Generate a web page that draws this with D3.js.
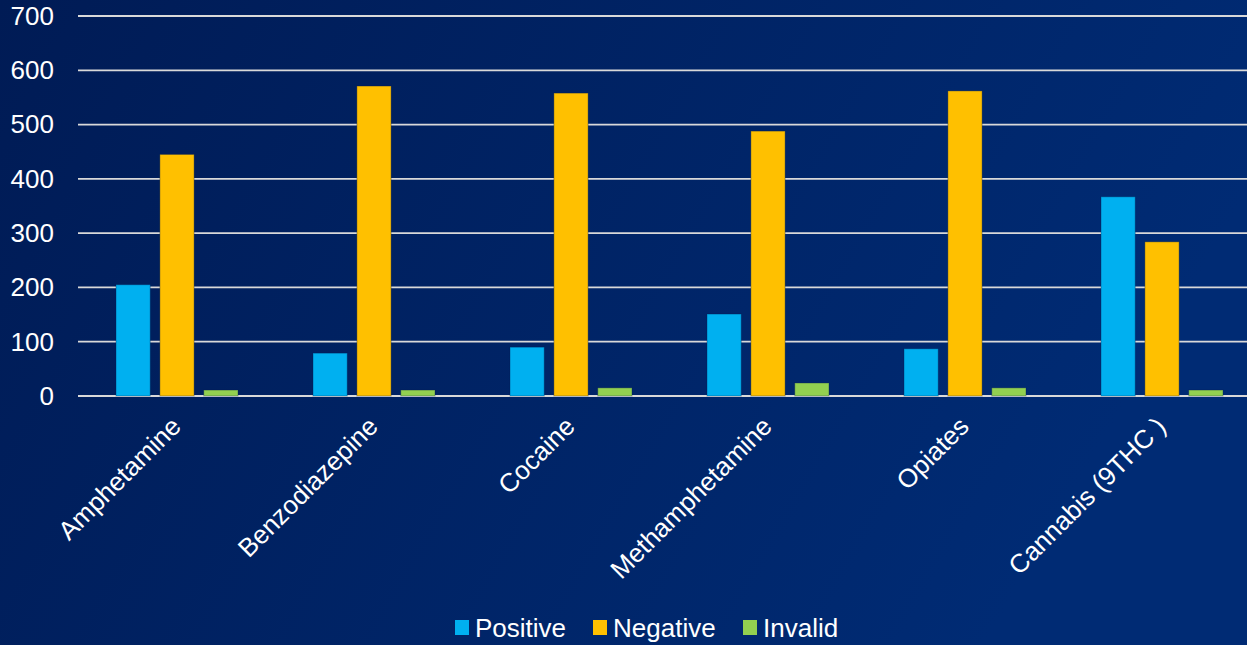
<!DOCTYPE html>
<html>
<head>
<meta charset="utf-8">
<script src="https://cdn.jsdelivr.net/npm/d3@7"></script>
<style>
  html, body { margin: 0; padding: 0; background: #00215f; }
  #chart { width: 1247px; height: 645px; }
  text { font-family: "Liberation Sans", Arial, sans-serif; fill: #ffffff; }
</style>
</head>
<body>
<div id="chart"></div>
<script>
// --------------------------------------
//  Data
// --------------------------------------

const drugs = ["Amphetamine", "Benzodiazepine", "Cocaine", "Methamphetamine", "Opiates", "Cannabis (9THC )"];
const positive = [205, 79, 90, 151, 87, 367];
const negative = [445, 571, 558, 488, 562, 284];
const invalid = [11, 11, 15, 24, 15, 11];
const seriesNames = ["Positive", "Negative", "Invalid"];
const seriesColors = ["#00b0f0", "#ffc000", "#92d050"];
const yTicks = [0, 100, 200, 300, 400, 500, 600, 700];

// --------------------------------------
//  Margin and canvas
// --------------------------------------

const width = 1247;
const height = 645;
const margin = {top: 16, right: -13, bottom: 249, left: 78};
const innerwidth = width - margin.left - margin.right;
const innerheight = height - margin.top - margin.bottom;
const fontSize = 26;

const svg = d3.select("#chart")
  .append("svg")
    .attr("width", width)
    .attr("height", height);

const grad = svg.append("defs")
  .append("linearGradient")
    .attr("id", "bg")
    .attr("x1", "0").attr("y1", "0")
    .attr("x2", "1").attr("y2", "0.3");
grad.append("stop").attr("offset", "0%").attr("stop-color", "#001b55");
grad.append("stop").attr("offset", "100%").attr("stop-color", "#002b74");

svg.append("rect")
    .attr("width", width)
    .attr("height", height)
    .attr("fill", "url(#bg)");

const innerChart = svg.append("g")
    .attr("transform", `translate(${margin.left}, ${margin.top})`);

// --------------------------------------
//  Scales
// --------------------------------------

const x = d3.scaleBand()
    .domain(drugs)
    .range([0, innerwidth]);

const xs = d3.scaleBand()
    .domain(seriesNames)
    .range([38, x.bandwidth() - 37])
    .paddingInner(0.22);

const y = d3.scaleLinear()
    .domain([0, 700])
    .range([innerheight, 0]);

const c = d3.scaleOrdinal()
    .domain(seriesNames)
    .range(seriesColors);

const rows = drugs.map((d, i) => ({
  drug: d,
  values: [positive[i], negative[i], invalid[i]].map((v, j) => ({key: seriesNames[j], value: v}))
}));

// --------------------------------------
//  Grid and axes
// --------------------------------------

innerChart.append("g")
    .attr("class", "grid")
  .selectAll("line")
  .data(yTicks)
  .join("line")
    .attr("x1", 0)
    .attr("x2", innerwidth)
    .attr("y1", d => y(d))
    .attr("y2", d => y(d))
    .attr("stroke", "#d9d9d9")
    .attr("stroke-width", 1.8);

const yAxis = innerChart.append("g")
    .attr("class", "y-axis")
    .call(d3.axisLeft(y)
      .tickValues(yTicks)
      .tickSize(0)
      .tickPadding(24));
yAxis.select(".domain").remove();
yAxis.selectAll("text")
    .attr("font-size", fontSize)
    .attr("fill", "#ffffff");

const xAxis = innerChart.append("g")
    .attr("class", "x-axis")
    .attr("transform", `translate(0, ${innerheight})`)
    .call(d3.axisBottom(x).tickSize(0).tickPadding(0));
xAxis.select(".domain").remove();
xAxis.selectAll("text")
    .attr("font-size", fontSize)
    .attr("fill", "#ffffff")
    .attr("text-anchor", "end")
    .attr("dy", 0)
    .attr("y", 0)
    .attr("transform", "translate(6, 32) rotate(-45)");

// --------------------------------------
//  Bars
// --------------------------------------

innerChart.selectAll(".group")
  .data(rows)
  .join("g")
    .attr("class", "group")
    .attr("transform", d => `translate(${x(d.drug)}, 0)`)
  .selectAll("rect")
  .data(d => d.values)
  .join("rect")
    .attr("x", d => xs(d.key))
    .attr("y", d => y(d.value))
    .attr("width", xs.bandwidth())
    .attr("height", d => y(0) - y(d.value))
    .attr("fill", d => c(d.key))
    .attr("stroke", "rgba(0,30,80,0.35)")
    .attr("stroke-width", 1);

// --------------------------------------
//  Legend
// --------------------------------------

const legendX = [455, 593, 743];
const legend = svg.append("g")
    .attr("class", "legend")
  .selectAll("g")
  .data(seriesNames)
  .join("g")
    .attr("transform", (d, i) => `translate(${legendX[i]}, 620)`);

legend.append("rect")
    .attr("width", 14)
    .attr("height", 15)
    .attr("fill", d => c(d));

legend.append("text")
    .attr("x", 20)
    .attr("y", 17)
    .attr("font-size", fontSize)
    .text(d => d);
</script>
</body>
</html>
